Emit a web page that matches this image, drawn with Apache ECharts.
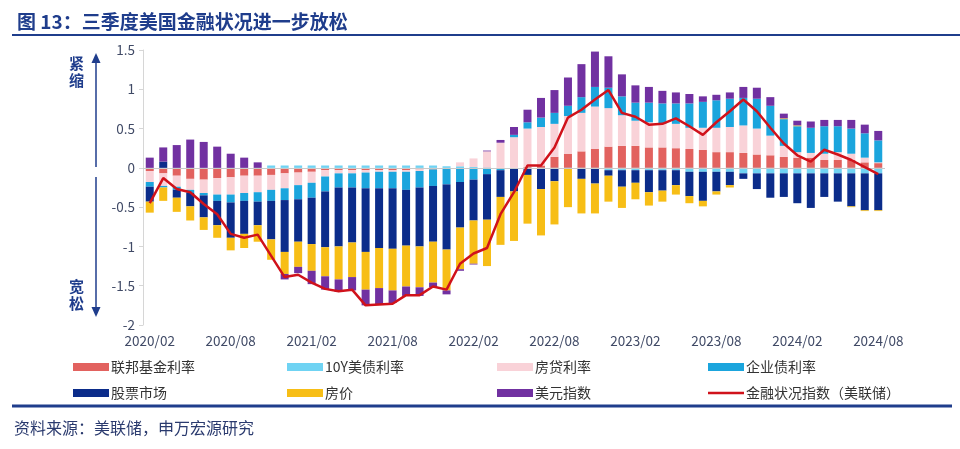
<!DOCTYPE html>
<html>
<head>
<meta charset="utf-8">
<script src="https://cdn.jsdelivr.net/npm/echarts@6/dist/echarts.min.js"></script>
<style>
html,body{margin:0;padding:0;background:#fff;}
#c{width:960px;height:449px;}
</style>
</head>
<body>
<div id="c"></div>
<script>
const categories = (function(){
  const out = [];
  let y = 2020, m = 2;
  for (let i = 0; i < 55; i++) {
    out.push(y + '/' + (m < 10 ? '0' + m : m));
    m++; if (m > 12) { m = 1; y++; }
  }
  return out;
})();

const yTicks = [-2, -1.5, -1, -0.5, 0, 0.5, 1, 1.5];

const fedFunds = [-0.04,-0.07,-0.10,-0.14,-0.15,-0.13,-0.12,-0.10,-0.10,-0.09,-0.07,-0.06,-0.05,-0.03,-0.03,-0.03,-0.03,-0.03,-0.03,-0.03,-0.02,-0.02,-0.01,0,0,0,0,0,0.01,0.03,0.14,0.18,0.21,0.24,0.27,0.28,0.28,0.26,0.26,0.25,0.24,0.23,0.20,0.20,0.19,0.17,0.16,0.14,0.13,0.13,0.10,0.10,0.10,0.07,0.06];
const t10y = [0,0,0,0,0,0,0,0,0,0.03,0.03,0.03,0.03,0.03,0.03,0.03,0.03,0.03,0.03,0.03,0.03,0.03,0.02,0.02,0.01,0,-0.01,-0.01,-0.01,-0.01,-0.01,-0.01,-0.01,-0.01,-0.03,-0.03,-0.03,-0.03,-0.03,-0.03,-0.05,-0.05,-0.05,-0.05,-0.07,-0.07,-0.07,-0.07,-0.07,-0.07,-0.07,-0.07,-0.07,-0.07,-0.07];
const mortgage = [-0.14,-0.16,-0.14,-0.14,-0.17,-0.21,-0.22,-0.22,-0.21,-0.19,-0.19,-0.16,-0.14,-0.08,-0.04,-0.04,-0.03,-0.02,-0.02,-0.02,-0.02,0,0,0.05,0.11,0.21,0.32,0.39,0.49,0.49,0.42,0.48,0.49,0.54,0.49,0.39,0.32,0.32,0.30,0.31,0.27,0.28,0.31,0.32,0.35,0.33,0.25,0.14,0.07,0.06,0.08,0.10,0.08,0.06,0.01];
const corpBond = [-0.06,-0.02,-0.04,-0.04,-0.03,-0.08,-0.10,-0.10,-0.12,-0.14,-0.15,-0.18,-0.19,-0.19,-0.18,-0.18,-0.20,-0.21,-0.21,-0.23,-0.21,-0.21,-0.20,-0.18,-0.15,-0.08,-0.02,0.03,0.08,0.12,0.14,0.13,0.20,0.25,0.26,0.24,0.23,0.25,0.26,0.26,0.31,0.33,0.35,0.36,0.35,0.38,0.38,0.34,0.33,0.32,0.35,0.33,0.32,0.31,0.28];
const stocks = [-0.19,0.08,-0.10,-0.17,-0.28,-0.31,-0.45,-0.42,-0.30,-0.49,-0.66,-0.54,-0.59,-0.71,-0.75,-0.70,-0.81,-0.76,-0.77,-0.71,-0.75,-0.71,-0.83,-0.58,-0.52,-0.58,-0.34,-0.29,-0.08,-0.26,-0.16,0,-0.13,-0.19,-0.07,-0.21,-0.16,-0.28,-0.26,-0.19,-0.31,-0.37,-0.25,-0.17,-0.07,-0.20,-0.31,-0.30,-0.38,-0.44,-0.30,-0.36,-0.42,-0.47,-0.47];
const housing = [-0.14,-0.17,-0.18,-0.18,-0.16,-0.16,-0.16,-0.18,-0.21,-0.26,-0.28,-0.32,-0.34,-0.37,-0.42,-0.44,-0.48,-0.51,-0.53,-0.52,-0.52,-0.52,-0.52,-0.53,-0.55,-0.59,-0.61,-0.63,-0.62,-0.59,-0.55,-0.49,-0.44,-0.38,-0.33,-0.27,-0.21,-0.17,-0.14,-0.12,-0.09,-0.07,-0.04,-0.03,0,0,0,0.01,0.01,0,0,0,-0.01,-0.01,-0.01];
const dollar = [0.13,0.18,0.29,0.36,0.33,0.27,0.18,0.13,0.07,0,-0.07,-0.08,-0.17,-0.17,-0.16,-0.17,-0.20,-0.21,-0.16,-0.12,-0.11,-0.06,-0.05,-0.02,-0.01,0.01,0.035,0.10,0.16,0.25,0.29,0.36,0.42,0.45,0.40,0.28,0.22,0.20,0.16,0.14,0.12,0.07,0.07,0.08,0.14,0.14,0.11,0.06,0.06,0.08,0.08,0.08,0.11,0.11,0.12];
const fci = [-0.45,-0.13,-0.27,-0.31,-0.46,-0.59,-0.84,-0.89,-0.85,-1.12,-1.39,-1.36,-1.46,-1.54,-1.57,-1.55,-1.75,-1.74,-1.73,-1.62,-1.62,-1.51,-1.55,-1.22,-1.09,-1.02,-0.59,-0.31,0.03,0.03,0.26,0.64,0.74,0.87,0.99,0.70,0.65,0.55,0.56,0.63,0.53,0.42,0.58,0.72,0.87,0.72,0.51,0.31,0.16,0.08,0.23,0.17,0.10,0.01,-0.08];

const names = ['联邦基金利率','10Y美债利率','房贷利率','企业债利率','股票市场','房价','美元指数','金融状况指数（美联储）'];
const colors = ['#E2625F','#6FD3F3','#F9D2D8','#1BA5DD','#0B2C8A','#F7BE16','#7131A1','#D0121B'];
const barData = [fedFunds, t10y, mortgage, corpBond, stocks, housing, dollar];

const FONT = '"Noto Sans CJK SC","Noto Sans",sans-serif';
const NAVY = '#1F3D8C';

const series = barData.map((d, i) => ({
  name: names[i], type: 'bar', stack: 'fci', barWidth: 8,
  itemStyle: {color: colors[i]}, data: d
}));
series.push({
  name: names[7], type: 'line', data: fci, symbol: 'none', showSymbol: false, z: 10,
  lineStyle: {color: colors[7], width: 2.5}, itemStyle: {color: colors[7]},
  markLine: {silent: true, symbol: 'none', label: {show: false},
    lineStyle: {color: '#C9C9C9', width: 1, type: 'solid'}, data: [{yAxis: 0}]}
});

const legendCols = [[0,4],[1,5],[2,6],[3,7]];
const legendLefts = [68, 282, 492, 703];
const legends = legendCols.map((c, k) => ({
  orient: 'vertical', left: legendLefts[k], top: 355, itemGap: 12,
  itemWidth: 36, itemHeight: 8, icon: 'rect',
  textStyle: {fontFamily: FONT, fontSize: 14, color: '#333', padding: [0,0,0,-3]},
  data: c.map(i => i === 7 ? {name: names[i], icon: 'path://M0,0 L36,0 L36,2.5 L0,2.5 Z'} : {name: names[i]})
}));

const chart = echarts.init(document.getElementById('c'), null, {renderer: 'canvas'});
chart.setOption({
  animation: false,
  backgroundColor: '#fff',
  title: {text: '图 13：三季度美国金融状况进一步放松', left: 12, top: 7,
    textStyle: {fontFamily: FONT, fontSize: 19, fontWeight: 'bold', color: NAVY}},
  grid: {left: 143, right: 75, top: 50, bottom: 124},
  legend: legends,
  xAxis: {type: 'category', data: categories,
    axisLine: {show: false}, axisTick: {show: false},
    axisLabel: {interval: 5, color: '#404a66', fontSize: 13.5, fontFamily: FONT, margin: 9}},
  yAxis: {type: 'value', min: yTicks[0], max: yTicks[yTicks.length-1], interval: 0.5,
    axisLine: {show: true, lineStyle: {color: '#D6D6D6'}},
    axisTick: {show: true, length: 4, lineStyle: {color: '#D6D6D6'}},
    splitLine: {show: false},
    axisLabel: {color: '#404a66', fontSize: 13.5, fontFamily: FONT, margin: 8}},
  graphic: [
    {type: 'line', shape: {x1: 12, y1: 35, x2: 960, y2: 35}, style: {stroke: NAVY, lineWidth: 2}},
    {type: 'line', shape: {x1: 12, y1: 406, x2: 952, y2: 406}, style: {stroke: NAVY, lineWidth: 3}},
    {type: 'text', left: 14, top: 420, style: {text: '资料来源：美联储，申万宏源研究', fontFamily: FONT, fontSize: 16, fill: '#2a3a6e'}},
    {type: 'line', shape: {x1: 96, y1: 62, x2: 96, y2: 167}, style: {stroke: NAVY, lineWidth: 1.5}},
    {type: 'polygon', shape: {points: [[96,53],[91.5,63],[100.5,63]]}, style: {fill: NAVY}},
    {type: 'line', shape: {x1: 96, y1: 177, x2: 96, y2: 308}, style: {stroke: NAVY, lineWidth: 1.5}},
    {type: 'polygon', shape: {points: [[96,317],[91.5,307],[100.5,307]]}, style: {fill: NAVY}},
    {type: 'text', left: 69, top: 55, style: {text: '紧\n缩', fontFamily: FONT, fontSize: 15, fontWeight: 'bold', fill: NAVY, lineHeight: 17}},
    {type: 'text', left: 69, top: 278, style: {text: '宽\n松', fontFamily: FONT, fontSize: 15, fontWeight: 'bold', fill: NAVY, lineHeight: 17}}
  ],
  series: series
});
</script>
</body>
</html>
